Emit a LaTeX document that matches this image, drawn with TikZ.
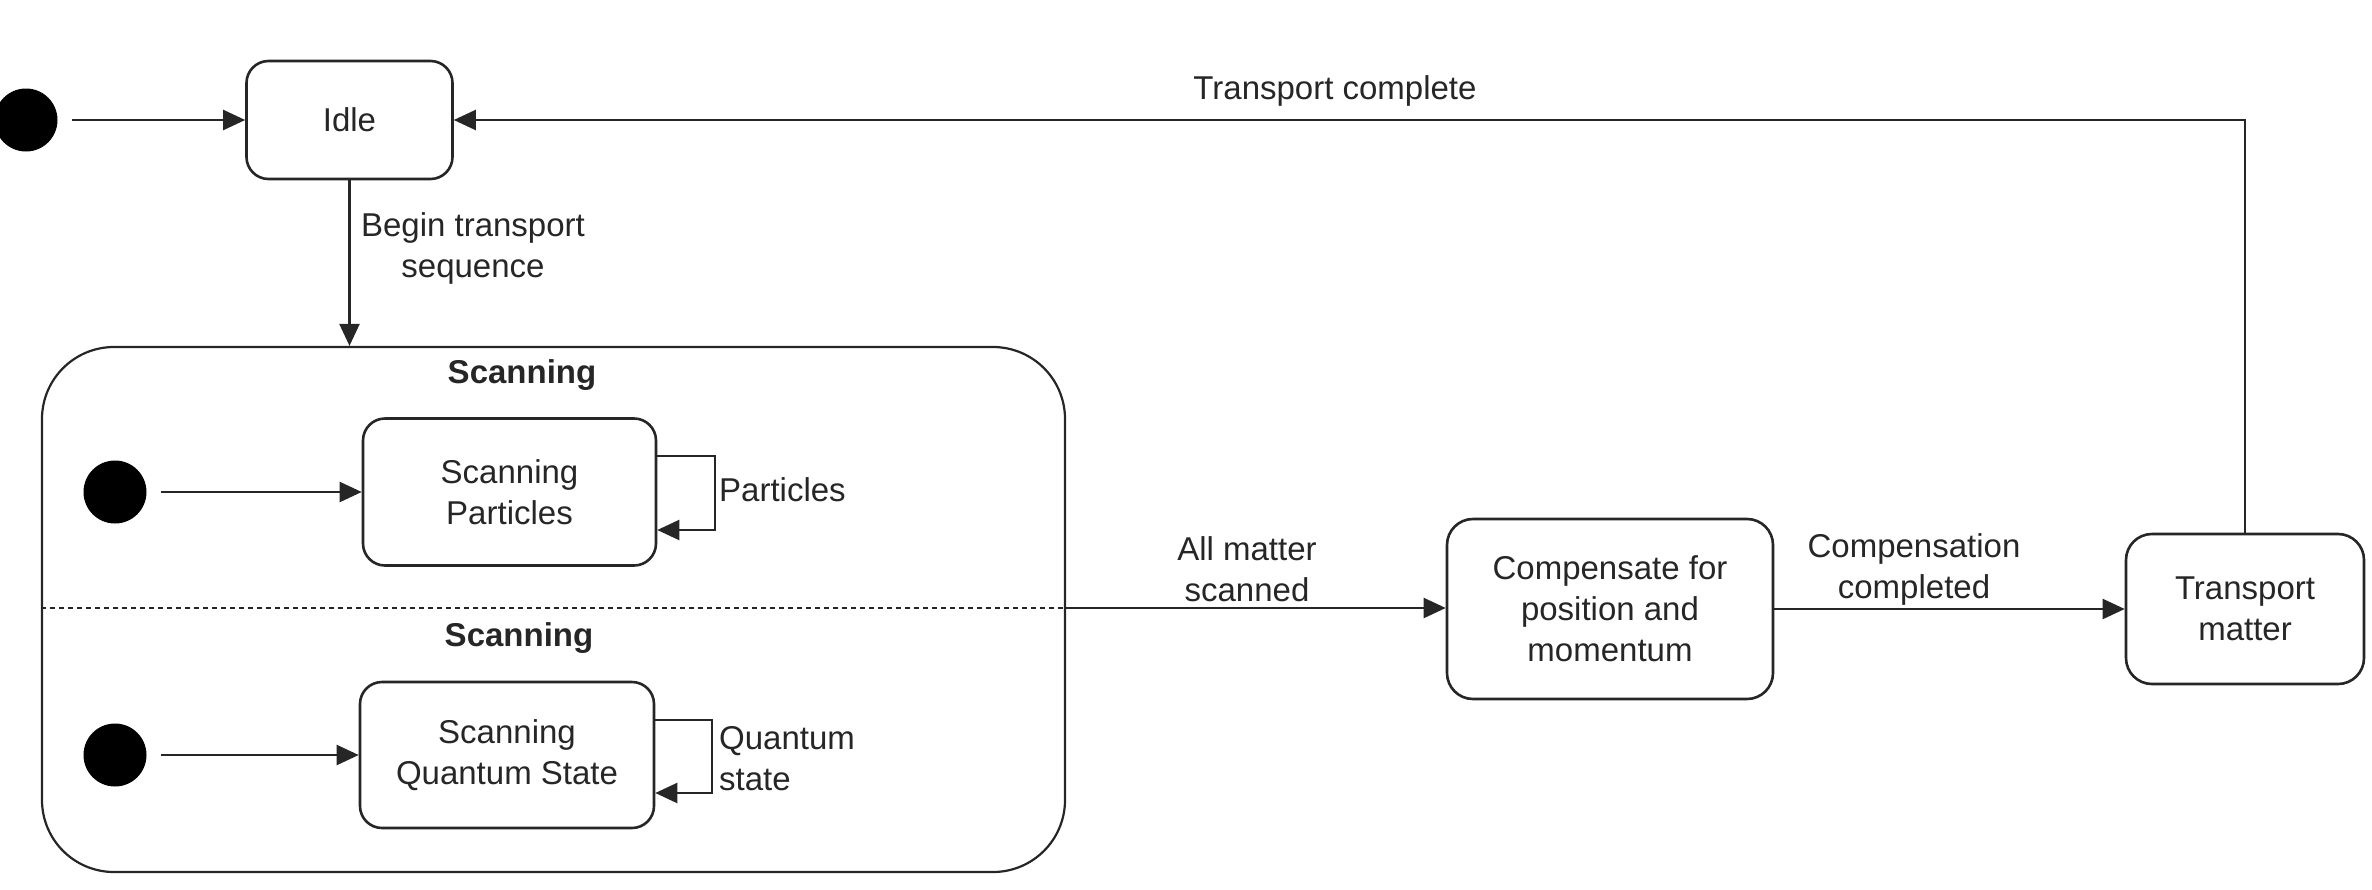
\documentclass[tikz,border=0pt]{standalone}
\usepackage{fontspec}
\setmainfont{Liberation Sans}
\usetikzlibrary{arrows.meta}
\begin{document}
\begin{tikzpicture}[x=1pt,y=-1pt,
  every node/.style={font=\fontsize{33}{41}\selectfont, text=black!85},
  state/.style={draw=black!85, line width=2.6pt, rounded corners=22pt, align=center, inner sep=0pt},
  startdot/.style={circle, fill=black, draw=none, minimum size=63pt, inner sep=0pt},
  conn/.style={draw=black!85, line width=2.2pt, -{Triangle[length=22pt,width=20pt]}},
  plain/.style={draw=black!85, line width=2.2pt},
  lbl/.style={align=center, inner sep=0pt},
  ttl/.style={font=\fontsize{33}{41}\selectfont\bfseries, inner sep=0pt}]
\useasboundingbox (0,0) rectangle (2372,889);
% container
\node[draw=black!85, line width=2.2pt, rounded corners=72pt, minimum width=1023pt, minimum height=525pt, inner sep=0pt] (cont) at (553.5,609.5) {};
\draw[draw=black!85, line width=2.2pt, dash pattern=on 5pt off 4pt] (cont.west |- 0,608) coordinate (sepL) -- (cont.east |- 0,608) coordinate (sepR);
\node[ttl] (t1) at (522,375) {Scanning};
\node[ttl] (t2) at (519,638) {Scanning};
% states
\node[startdot] (d1) at (26,120) {};
\node[state, minimum width=206pt, minimum height=118pt] (idle) at (349.5,120) {Idle};
\node[startdot] (d2) at (115,492) {};
\node[state, minimum width=293pt, minimum height=147pt] (sp) at (509.5,492) {Scanning\\Particles};
\node[startdot] (d3) at (115,755) {};
\node[state, minimum width=294pt, minimum height=146pt] (sq) at (507,755) {Scanning\\Quantum State};
\node[state, rounded corners=26pt, minimum width=326pt, minimum height=180pt] (comp) at (1610,609) {Compensate for\\position and\\momentum};
\node[state, rounded corners=26pt, minimum width=238pt, minimum height=150pt] (tm) at (2245,609) {Transport\\matter};
% connectors
\draw[conn, shorten <=14pt] (d1) -- (idle.west);
\draw[conn] (idle.south) -- (idle.south |- cont.north);
\draw[conn, shorten <=14pt] (d2) -- (sp.west);
\draw[conn, shorten <=14pt] (d3) -- (sq.west);
\coordinate (l1a) at (715,456);
\coordinate (l1b) at (715,530);
\draw[conn] (sp.east |- l1a) -- (l1a) -- (l1b) -- (sp.east |- l1b);
\coordinate (l2a) at (712,720);
\coordinate (l2b) at (712,793);
\draw[conn] (sq.east |- l2a) -- (l2a) -- (l2b) -- (sq.east |- l2b);
\draw[conn] (sepR) -- (comp.west |- sepR);
\draw[conn] (comp.east) -- (tm.west);
\draw[conn] (tm.north) |- (idle.east);
% labels
\node[lbl] (lb1) at (473,248) {Begin transport\\sequence};
\node[lbl, anchor=west] (lb2) at (719,490) {Particles};
\node[lbl, anchor=west, align=left] (lb3) at (719,759) {Quantum\\state};
\node[lbl] (lb4) at (1335,91) {Transport complete};
\node[lbl] (lb5) at (1247,569) {All matter\\scanned};
\node[lbl] (lb6) at (1914,569) {Compensation\\completed};
\end{tikzpicture}
\end{document}
